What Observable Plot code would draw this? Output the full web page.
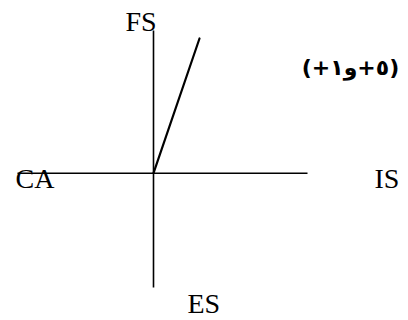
<!DOCTYPE html>
<html>
<head>
<meta charset="utf-8">
<script src="https://cdn.jsdelivr.net/npm/d3@7"></script>
<script src="https://cdn.jsdelivr.net/npm/@observablehq/plot@0.6"></script>
<style>
  html, body { margin: 0; padding: 0; background: #fff; }
  svg { display: block; }
</style>
</head>
<body>
<div id="chart"></div>
<script>
// Axis lines (x1,y1)-(x2,y2) in chart units, origin at the crossing
const axisX1 = [-136, 0];
const axisY1 = [0, -114.3];
const axisX2 = [154, 0];
const axisY2 = [0, 142.7];
// FS curve from origin
const curveX = [0, 46];
const curveY = [0, 134.7];
// Labels
const labels = ["FS", "CA", "IS", "ES"];
const labelX = [-28, -138, 221, 34];
const labelY = [142.7, -14.6, -14.6, -140];
// Arabic note
const note = ["(٥+و١+)"];
const noteX = [197];
const noteY = [105];

const axes = axisX1.map((d, i) => ({x1: d, y1: axisY1[i], x2: axisX2[i], y2: axisY2[i]}));
const curve = curveX.map((d, i) => ({x: d, y: curveY[i]}));
const labelData = labels.map((t, i) => ({t, x: labelX[i], y: labelY[i]}));
const noteData = note.map((t, i) => ({t: "\u2067" + t + "\u2069", x: noteX[i], y: noteY[i]}));

const chart = Plot.plot({
  width: 408,
  height: 320,
  margin: 0,
  x: {domain: [-153, 255], axis: null},
  y: {domain: [-147.3, 172.7], axis: null},
  style: {fontFamily: "'Liberation Serif', 'Times New Roman', serif", background: "#fff", color: "#000"},
  marks: [
    Plot.link(axes, {x1: "x1", y1: "y1", x2: "x2", y2: "y2", stroke: "#000", strokeWidth: 1.6}),
    Plot.line(curve, {x: "x", y: "y", stroke: "#000", strokeWidth: 2.2}),
    Plot.text(labelData, {x: "x", y: "y", text: "t", textAnchor: "start", lineAnchor: "bottom", fontSize: 28, fill: "#000"}),
    Plot.text(noteData, {x: "x", y: "y", text: "t", textAnchor: "middle", lineAnchor: "middle", fontSize: 22, fontWeight: "bold", fontFamily: "'DejaVu Sans', sans-serif", fill: "#000"})
  ]
});
document.getElementById("chart").appendChild(chart);
</script>
</body>
</html>
